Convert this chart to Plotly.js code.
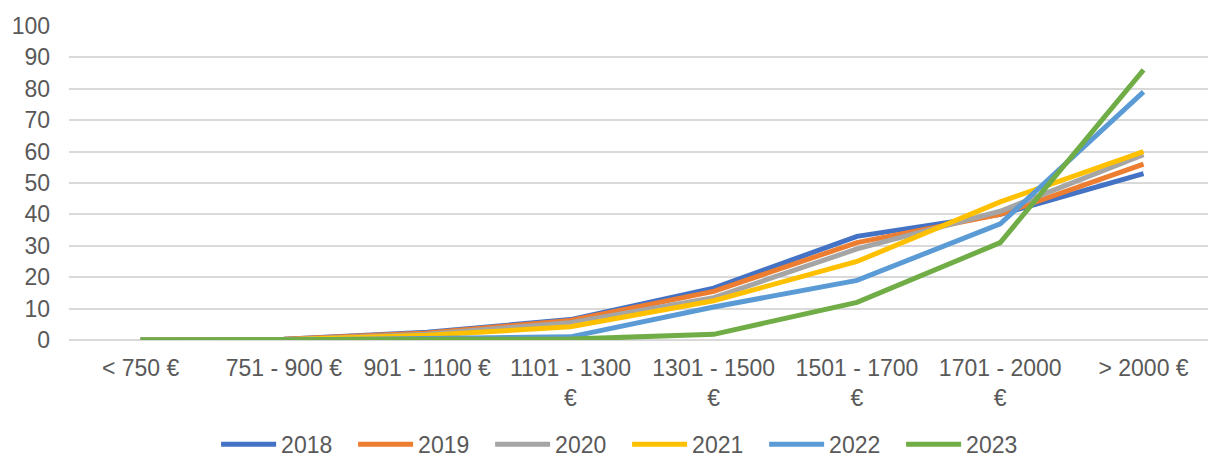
<!DOCTYPE html>
<html><head><meta charset="utf-8">
<script src="https://cdn.plot.ly/plotly-3.0.1.min.js"></script>
<style>html,body{margin:0;padding:0;background:#fff}</style>
</head><body>
<div id="chart" style="width:1208px;height:457px"></div>
<script>
var categories = ["&lt; 750 €", "751 - 900 €", "901 - 1100 €", "1101 - 1300<br>€", "1301 - 1500<br>€", "1501 - 1700<br>€", "1701 - 2000<br>€", "&gt; 2000 €"];
var years = ["2018", "2019", "2020", "2021", "2022", "2023"];
var v2018 = [0, 0.2, 2.5, 6.5, 16.5, 33, 40, 53];
var v2019 = [0, 0.2, 2.2, 6.2, 15.5, 31, 40, 56];
var v2020 = [0, 0.1, 1.8, 5.5, 13.5, 29, 41, 59];
var v2021 = [0, 0.1, 1.5, 4.2, 12.5, 25, 44, 60];
var v2022 = [0, 0, 0.5, 1, 10.5, 19, 37, 79];
var v2023 = [0, 0, 0.2, 0.3, 1.8, 12, 31, 86];
var series = [v2018, v2019, v2020, v2021, v2022, v2023];
var colors = ["#4472C4", "#ED7D31", "#A5A5A5", "#FFC000", "#5B9BD5", "#70AD47"];

var font = "'Liberation Sans', Arial, sans-serif";
var traces = series.map(function (vals, i) {
  return {
    type: "scatter", mode: "lines", name: years[i],
    x: categories, y: vals,
    line: {color: colors[i], width: 5, shape: "linear"},
    hoverinfo: "skip"
  };
});

var layout = {
  width: 1208, height: 457,
  margin: {l: 69, r: 0, t: 26, b: 117, autoexpand: false},
  paper_bgcolor: "#fff", plot_bgcolor: "#fff",
  font: {family: font, size: 23, color: "#595959"},
  showlegend: true,
  legend: {orientation: "h", x: 0.49, xanchor: "center", y: -0.332, yanchor: "middle",
           font: {family: font, size: 23, color: "#595959"}, itemwidth: 55,
           entrywidth: 67, entrywidthmode: "pixels", tracegroupgap: 0},
  xaxis: {type: "category", range: [-0.5, 7.45], showgrid: false, zeroline: false,
          showline: false, ticks: "", tickangle: 0, ticklabelstandoff: 12,
          tickfont: {family: font, size: 23, color: "#595959"}},
  yaxis: {range: [0, 100], dtick: 10, showgrid: true, gridcolor: "#d9d9d9", gridwidth: 2,
          zeroline: true, zerolinecolor: "#d9d9d9", zerolinewidth: 2, showline: false,
          ticks: "", ticklabelstandoff: 18,
          tickfont: {family: font, size: 23, color: "#595959"}}
};
Plotly.newPlot("chart", traces, layout, {staticPlot: true, displayModeBar: false});
</script>
</body></html>
